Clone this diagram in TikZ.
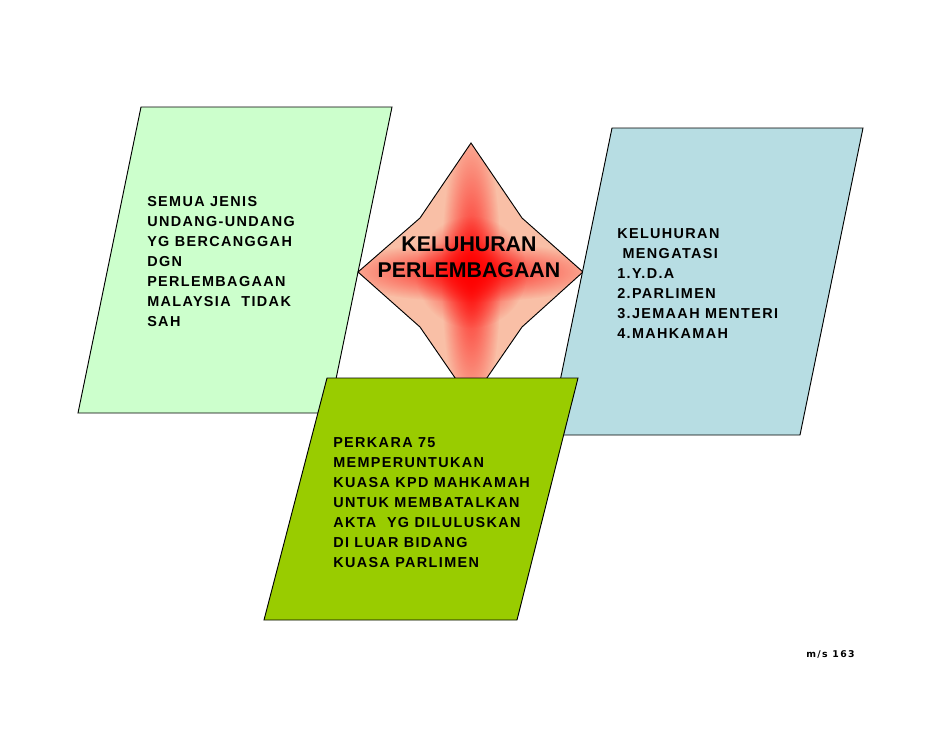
\documentclass[tikz,border=0pt]{standalone}
\usepackage{fontspec}
\usetikzlibrary{fadings}
\setmainfont{Liberation Sans}
\newfontfamily\panelfont[LetterSpace=9.5]{Liberation Sans Bold}
\newfontfamily\pagefont[LetterSpace=15]{DejaVu Sans Bold}

\definecolor{mintfill}{RGB}{204,255,204}
\definecolor{skyfill}{RGB}{183,221,227}
\definecolor{limefill}{RGB}{153,204,0}
\definecolor{peach}{RGB}{249,191,166}
\tikzfading[name=glowfade,inner color=transparent!0,outer color=transparent!100]

\tikzstyle{panel} = [draw=black,line width=.7pt]
\tikzstyle{glow} = [fill=red,path fading=glowfade]
\tikzstyle{paneltext} = [anchor=north west,inner sep=0pt,align=left,font=\panelfont\fontsize{10.8}{15}\selectfont]
\tikzstyle{startext} = [anchor=north,inner sep=0pt,align=center,font=\bfseries\fontsize{16}{19}\selectfont]
\tikzstyle{pagetext} = [anchor=north west,inner sep=0pt,font=\pagefont\fontsize{7}{8}\selectfont]

\begin{document}
\begin{tikzpicture}[x=.75pt,y=-.75pt]
\useasboundingbox (0,0) rectangle (942,728);

% star points
\coordinate (n) at (471,143);
\coordinate (ne) at (522,218);
\coordinate (e) at (583,272);
\coordinate (se) at (522,327);
\coordinate (s) at (471,401);
\coordinate (sw) at (420,327);
\coordinate (w) at (358,272);
\coordinate (nw) at (420,218);
\coordinate (mid) at (471,272);

% shapes
\draw[panel,fill=mintfill] (141,107) -- (392,107) -- (329,413) -- (78,413) -- cycle;

\fill[peach] (n) -- (ne) -- (e) -- (se) -- (s) -- (sw) -- (w) -- (nw) -- cycle;
\begin{scope}
\clip (n) -- (ne) -- (e) -- (se) -- (s) -- (sw) -- (w) -- (nw) -- cycle;
\fill[glow,opacity=.85] (mid) ellipse (30 and 150);
\fill[glow,opacity=.85] (mid) ellipse (135 and 30);
\fill[glow] (mid) circle (56);
\end{scope}
\draw[panel] (n) -- (ne) -- (e) -- (se) -- (s) -- (sw) -- (w) -- (nw) -- cycle;

\draw[panel,fill=skyfill] (612,128) -- (863,128) -- (800,435) -- (549,435) -- cycle;
\draw[panel,fill=limefill] (327,378) -- (578,378) -- (517,620) -- (264,620) -- cycle;

% texts
\node[paneltext] (law) at (147,196) {SEMUA JENIS\\UNDANG-UNDANG\\YG BERCANGGAH\\DGN\\PERLEMBAGAAN\\MALAYSIA\ \ TIDAK\\SAH};
\node[startext] (supreme) at (469,237) {KELUHURAN\\PERLEMBAGAAN};
\node[paneltext] (over) at (617,228) {KELUHURAN\\ \ MENGATASI\\1.Y.D.A\\2.PARLIMEN\\3.JEMAAH MENTERI\\4.MAHKAMAH};
\node[paneltext] (article) at (333,437) {PERKARA 75\\MEMPERUNTUKAN\\KUASA KPD MAHKAMAH\\UNTUK MEMBATALKAN\\AKTA\ \ YG DILULUSKAN\\DI LUAR BIDANG\\KUASA PARLIMEN};
\node[pagetext] (page) at (806,650) {m/s 163};

\end{tikzpicture}
\end{document}
